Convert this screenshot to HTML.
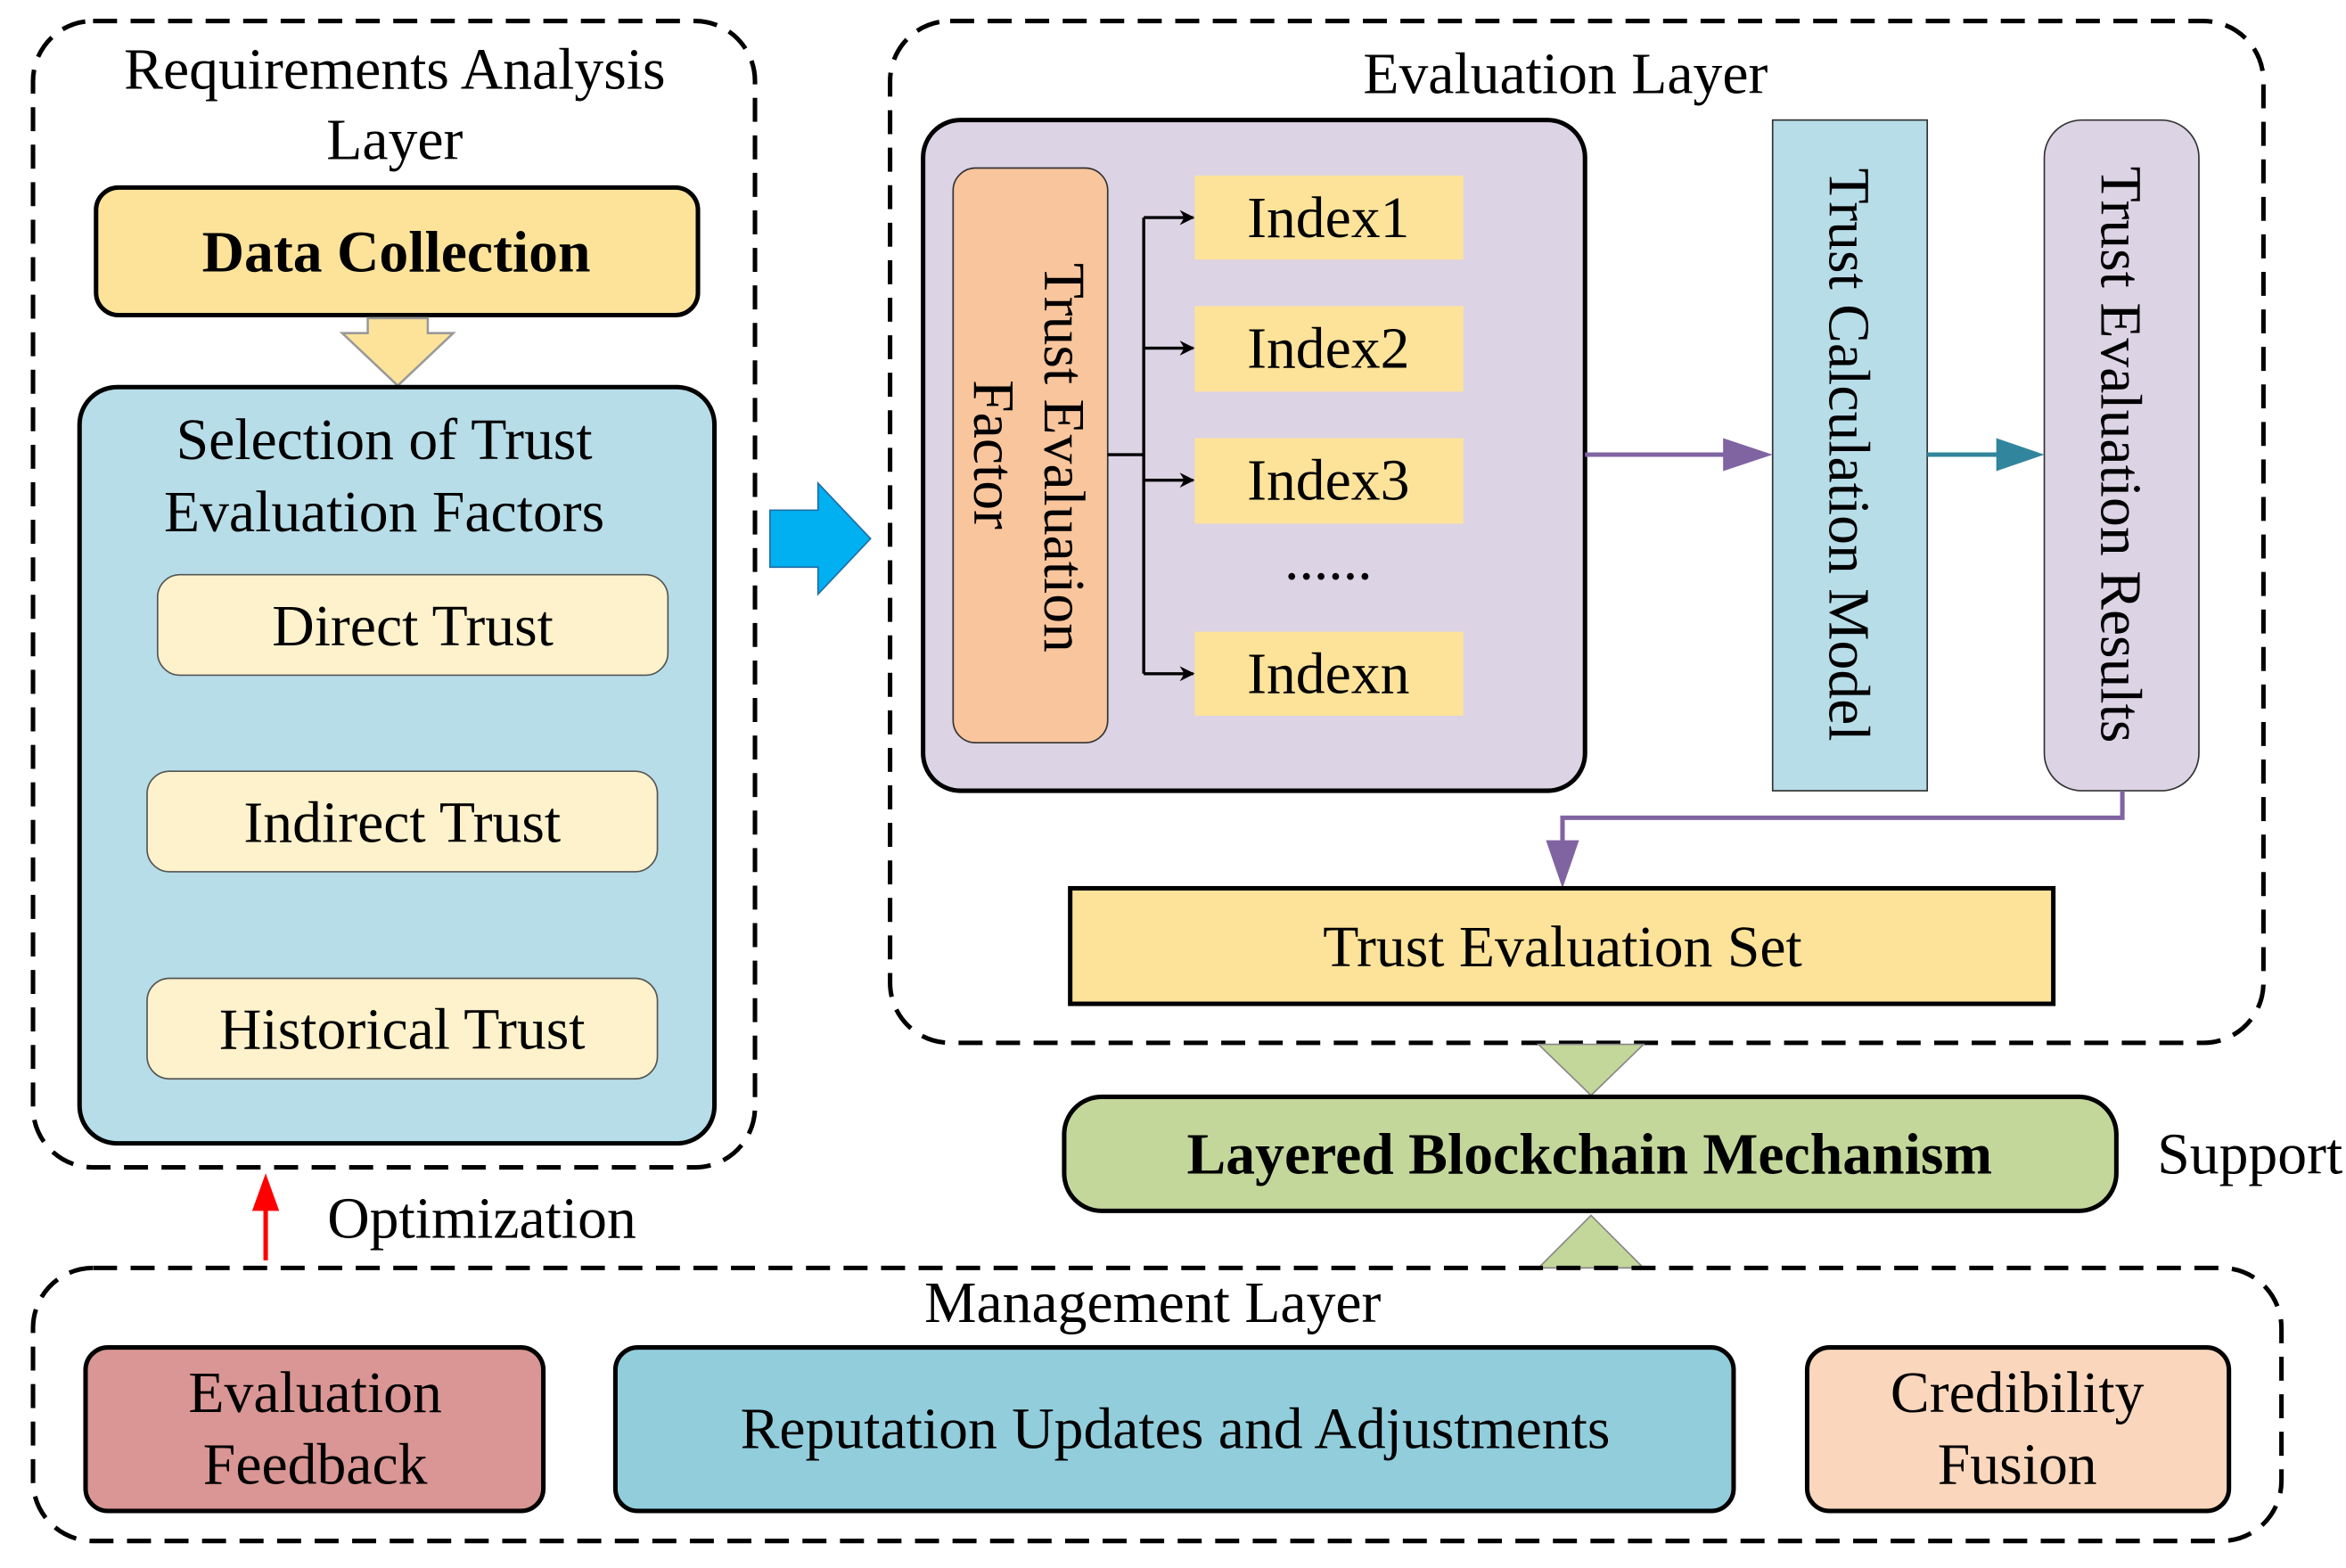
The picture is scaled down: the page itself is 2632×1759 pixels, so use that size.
<!DOCTYPE html>
<html><head><meta charset="utf-8"><style>html,body{margin:0;padding:0;background:#fff}svg{display:block}</style></head>
<body>
<svg width="2632" height="1759" viewBox="0 0 1563 1045" preserveAspectRatio="none" xmlns="http://www.w3.org/2000/svg" font-family="'Liberation Serif', serif" font-size="39" text-anchor="middle">
<defs>
<marker id="ak" markerWidth="10" markerHeight="10" refX="9" refY="5" orient="auto" markerUnits="userSpaceOnUse"><path d="M0,0 L10,5 L0,10 L3,5 Z" fill="#000"/></marker>
</defs>
<rect x="22" y="14" width="481" height="764" rx="40" fill="none" stroke="#000" stroke-width="3" stroke-dasharray="16,9"/>
<text x="263" y="59">Requirements Analysis</text>
<text x="263" y="106">Layer</text>
<rect x="64" y="125" width="401" height="85" rx="15" fill="#fde39a" stroke="#000" stroke-width="3"/>
<text x="264" y="181" font-weight="bold">Data Collection</text>
<path d="M245,212 H285 V222 H302 L265,257 L228,222 H245 Z" fill="#fde39a" stroke="#999" stroke-width="1.5"/>
<rect x="53" y="258" width="423" height="504" rx="25" fill="#b7dde8" stroke="#000" stroke-width="3"/>
<text x="256" y="306">Selection of Trust</text>
<text x="256" y="354">Evaluation Factors</text>
<rect x="105" y="383" width="340" height="67" rx="15" fill="#fef2cc" stroke="#555" stroke-width="1"/>
<text x="275" y="430">Direct Trust</text>
<rect x="98" y="514" width="340" height="67" rx="15" fill="#fef2cc" stroke="#555" stroke-width="1"/>
<text x="268" y="561">Indirect Trust</text>
<rect x="98" y="652" width="340" height="67" rx="15" fill="#fef2cc" stroke="#555" stroke-width="1"/>
<text x="268" y="699">Historical Trust</text>
<path d="M513,340 H545 V322 L580,359 L545,396 V378 H513 Z" fill="#00b0f0" stroke="#1f6fa8" stroke-width="1"/>
<rect x="593" y="14" width="915" height="681" rx="40" fill="none" stroke="#000" stroke-width="3" stroke-dasharray="16,9"/>
<text x="1043" y="62">Evaluation Layer</text>
<rect x="615" y="80" width="441" height="447" rx="25" fill="#dcd3e4" stroke="#000" stroke-width="3"/>
<rect x="635" y="112" width="103" height="383" rx="15" fill="#f8c59c" stroke="#333" stroke-width="1"/>
<text transform="translate(696,305) rotate(90)">Trust Evaluation</text>
<text transform="translate(649,303) rotate(90)">Factor</text>
<g fill="#fde39a"><rect x="796" y="117" width="179" height="56"/><rect x="796" y="204" width="179" height="57"/><rect x="796" y="292" width="179" height="57"/><rect x="796" y="421" width="179" height="56"/></g>
<text x="885" y="158">Index1</text>
<text x="885" y="245">Index2</text>
<text x="885" y="333">Index3</text>
<text x="885" y="386">......</text>
<text x="885" y="462">Indexn</text>
<g stroke="#000" stroke-width="2" fill="none">
<path d="M738,303 H762"/><path d="M762,145 V449"/>
<path d="M762,145 H795" marker-end="url(#ak)"/><path d="M762,232 H795" marker-end="url(#ak)"/><path d="M762,320 H795" marker-end="url(#ak)"/><path d="M762,449 H795" marker-end="url(#ak)"/>
</g>
<rect x="1181" y="80" width="103" height="447" fill="#b7dde8" stroke="#333" stroke-width="1"/>
<text transform="translate(1219,303) rotate(90)">Trust Calculation Model</text>
<rect x="1362" y="80" width="103" height="447" rx="25" fill="#dcd3e4" stroke="#333" stroke-width="1"/>
<text transform="translate(1400,303) rotate(90)">Trust Evaluation Results</text>
<path d="M1056,303 H1150" stroke="#8064a2" stroke-width="3"/>
<path d="M1148,292 L1181,303 L1148,314 Z" fill="#8064a2"/>
<path d="M1284,303 H1332" stroke="#31859c" stroke-width="3"/>
<path d="M1330,292 L1362,303 L1330,314 Z" fill="#31859c"/>
<path d="M1414,527 V545 H1041 V565" stroke="#8064a2" stroke-width="3" fill="none"/>
<path d="M1030,560 L1041,592 L1052,560 Z" fill="#8064a2"/>
<rect x="713" y="592" width="655" height="77" fill="#fde39a" stroke="#000" stroke-width="3"/>
<text x="1041" y="644">Trust Evaluation Set</text>
<path d="M1025,696 H1095 L1060,730 Z" fill="#c4d79b" stroke="#888" stroke-width="1"/>
<path d="M1025,845 H1095 L1060,810 Z" fill="#c4d79b" stroke="#888" stroke-width="1"/>
<rect x="709" y="731" width="701" height="76" rx="25" fill="#c4d79b" stroke="#000" stroke-width="3"/>
<text x="1059" y="782" font-weight="bold">Layered Blockchain Mechanism</text>
<text x="1499" y="782">Support</text>
<path d="M177,840 V805" stroke="#f00" stroke-width="3"/>
<path d="M168,807 L177,782 L186,807 Z" fill="#f00"/>
<text x="321" y="825">Optimization</text>
<rect x="22" y="845" width="1498" height="182" rx="40" fill="none" stroke="#000" stroke-width="3" stroke-dasharray="16,9"/>
<text x="768" y="881">Management Layer</text>
<rect x="57" y="898" width="305" height="109" rx="15" fill="#d99694" stroke="#000" stroke-width="3"/>
<text x="210" y="941">Evaluation</text>
<text x="210" y="989">Feedback</text>
<rect x="410" y="898" width="745" height="109" rx="15" fill="#92cddc" stroke="#000" stroke-width="3"/>
<text x="783" y="965">Reputation Updates and Adjustments</text>
<rect x="1204" y="898" width="281" height="109" rx="15" fill="#fad7bc" stroke="#000" stroke-width="3"/>
<text x="1344" y="941">Credibility</text>
<text x="1344" y="989">Fusion</text>
</svg>
</body></html>
